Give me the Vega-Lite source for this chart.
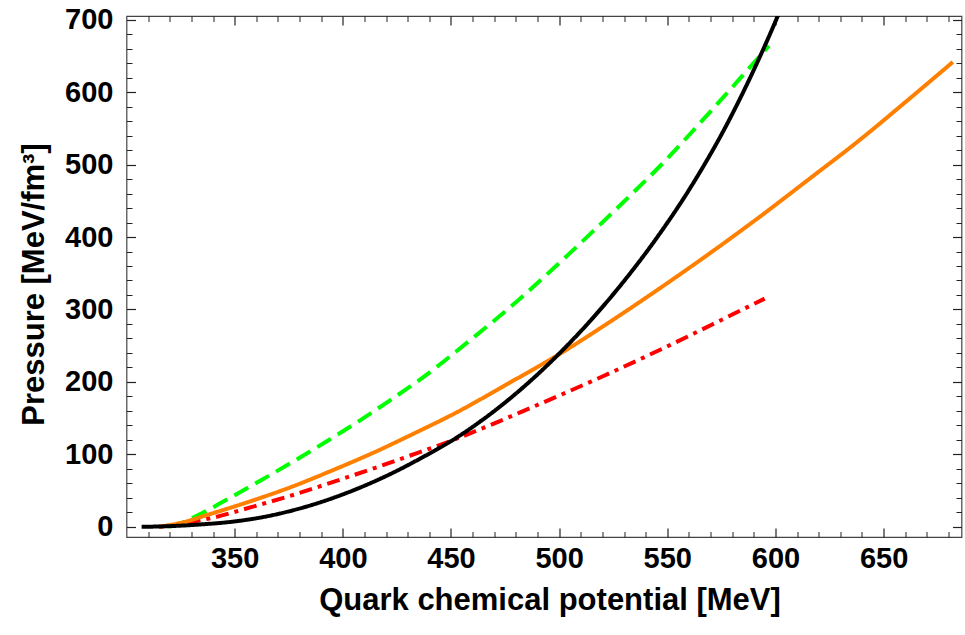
{
  "$schema": "https://vega.github.io/schema/vega-lite/v6.json",
  "width": 835,
  "height": 521,
  "autosize": "none",
  "padding": {"left": 126.5, "top": 16, "right": 3.5, "bottom": 98},
  "background": "white",
  "config": {"view": {"stroke": "#444", "strokeWidth": 1.2}},
  "data": {"values": [
    {"s": "green", "mu": 320, "P": 0}, {"s": "green", "mu": 325, "P": 5}, {"s": "green", "mu": 335, "P": 19}, {"s": "green", "mu": 346, "P": 37}, {"s": "green", "mu": 362, "P": 64}, {"s": "green", "mu": 377, "P": 90}, {"s": "green", "mu": 392, "P": 117}, {"s": "green", "mu": 408, "P": 147}, {"s": "green", "mu": 422, "P": 175}, {"s": "green", "mu": 436, "P": 204}, {"s": "green", "mu": 459, "P": 258}, {"s": "green", "mu": 482, "P": 315}, {"s": "green", "mu": 500, "P": 364}, {"s": "green", "mu": 515, "P": 406}, {"s": "green", "mu": 530, "P": 449}, {"s": "green", "mu": 547, "P": 499}, {"s": "green", "mu": 572, "P": 580}, {"s": "green", "mu": 597, "P": 664},
    {"s": "red", "mu": 315, "P": 0}, {"s": "red", "mu": 325, "P": 4}, {"s": "red", "mu": 339, "P": 12}, {"s": "red", "mu": 358, "P": 27.5}, {"s": "red", "mu": 377, "P": 44}, {"s": "red", "mu": 396, "P": 62.5}, {"s": "red", "mu": 415, "P": 81.5}, {"s": "red", "mu": 434, "P": 101.5}, {"s": "red", "mu": 452, "P": 121}, {"s": "red", "mu": 467, "P": 139}, {"s": "red", "mu": 482, "P": 158}, {"s": "red", "mu": 501, "P": 182.5}, {"s": "red", "mu": 520, "P": 207.5}, {"s": "red", "mu": 540, "P": 235}, {"s": "red", "mu": 559, "P": 262}, {"s": "red", "mu": 577, "P": 288.5}, {"s": "red", "mu": 595, "P": 315},
    {"s": "orange", "mu": 315, "P": 0}, {"s": "orange", "mu": 325, "P": 5.5}, {"s": "orange", "mu": 339, "P": 18}, {"s": "orange", "mu": 358, "P": 36}, {"s": "orange", "mu": 377, "P": 56}, {"s": "orange", "mu": 396, "P": 79}, {"s": "orange", "mu": 415, "P": 103.5}, {"s": "orange", "mu": 433, "P": 129}, {"s": "orange", "mu": 452, "P": 157}, {"s": "orange", "mu": 476, "P": 197}, {"s": "orange", "mu": 501, "P": 240}, {"s": "orange", "mu": 522, "P": 280}, {"s": "orange", "mu": 543, "P": 322}, {"s": "orange", "mu": 568, "P": 374}, {"s": "orange", "mu": 593, "P": 428.5}, {"s": "orange", "mu": 616, "P": 481}, {"s": "orange", "mu": 639, "P": 534}, {"s": "orange", "mu": 660, "P": 586}, {"s": "orange", "mu": 682, "P": 641.5},
    {"s": "black", "mu": 307, "P": 0}, {"s": "black", "mu": 320, "P": 1}, {"s": "black", "mu": 335, "P": 3.5}, {"s": "black", "mu": 350, "P": 7.5}, {"s": "black", "mu": 365, "P": 14.6}, {"s": "black", "mu": 377, "P": 22.9}, {"s": "black", "mu": 390, "P": 34.3}, {"s": "black", "mu": 400, "P": 44.8}, {"s": "black", "mu": 412, "P": 59.3}, {"s": "black", "mu": 423, "P": 74.4}, {"s": "black", "mu": 436, "P": 94.6}, {"s": "black", "mu": 452, "P": 122}, {"s": "black", "mu": 467, "P": 153}, {"s": "black", "mu": 482, "P": 189}, {"s": "black", "mu": 501, "P": 242}, {"s": "black", "mu": 516, "P": 289.7}, {"s": "black", "mu": 531, "P": 343}, {"s": "black", "mu": 545, "P": 398.3}, {"s": "black", "mu": 562, "P": 474.4}, {"s": "black", "mu": 577, "P": 552.4}, {"s": "black", "mu": 591, "P": 637.1}, {"s": "black", "mu": 601, "P": 704.6}, {"s": "black", "mu": 603, "P": 719}
  ]},
  "layer": [
    {
      "mark": {"type": "line", "interpolate": "monotone", "clip": true, "strokeWidth": 4, "strokeCap": "butt"},
      "encoding": {
        "x": {"field": "mu", "type": "quantitative", "scale": {"domain": [300, 686], "nice": false, "zero": false},
          "axis": {"orient": "bottom", "values": [350, 400, 450, 500, 550, 600, 650], "tickSize": -9, "tickColor": "#222", "tickWidth": 1.2, "domain": false, "grid": false,
            "labelFont": "Liberation Sans", "labelFontWeight": "bold", "labelFontSize": 29, "labelColor": "black", "labelPadding": 16, "labelFlush": false, "labelOverlap": false,
            "title": "Quark chemical potential [MeV]", "titleFont": "Liberation Sans", "titleFontWeight": "bold", "titleFontSize": 31, "titleColor": "black", "titleX": 423, "titleY": 72, "titleBaseline": "alphabetic"}},
        "y": {"field": "P", "type": "quantitative", "scale": {"domain": [-14, 705], "nice": false, "zero": false},
          "axis": {"orient": "left", "values": [0, 100, 200, 300, 400, 500, 600, 700], "tickSize": -9, "tickColor": "#222", "tickWidth": 1.2, "domain": false, "grid": false,
            "labelFont": "Liberation Sans", "labelFontWeight": "bold", "labelFontSize": 29, "labelColor": "black", "labelPadding": 22.5, "labelFlush": false, "labelOverlap": false,
            "title": "Pressure [MeV/fm³]", "titleFont": "Liberation Sans", "titleFontWeight": "bold", "titleFontSize": 31, "titleColor": "black", "titleAngle": 270, "titleX": -83, "titleY": 268, "titleBaseline": "alphabetic"}},
        "color": {"field": "s", "type": "nominal", "legend": null, "scale": {"domain": ["green", "red", "orange", "black"], "range": ["#00FF00", "#FF0000", "#FF8000", "#000000"]}},
        "strokeDash": {"field": "s", "type": "nominal", "legend": null, "scale": {"domain": ["green", "red", "orange", "black"], "range": [[16, 8], [13, 6, 4, 6], [1, 0], [1, 0]]}}
      }
    },
    {
      "mark": {"type": "point", "opacity": 0},
      "encoding": {
        "x": {"field": "mu", "type": "quantitative", "axis": {"orient": "bottom", "values": [310, 320, 330, 340, 360, 370, 380, 390, 410, 420, 430, 440, 460, 470, 480, 490, 510, 520, 530, 540, 560, 570, 580, 590, 610, 620, 630, 640, 660, 670, 680], "tickSize": -5.5, "tickColor": "#222", "tickWidth": 1, "domain": false, "grid": false, "labels": false, "title": null}},
        "y": {"field": "P", "type": "quantitative", "axis": {"orient": "left", "values": [20, 40, 60, 80, 120, 140, 160, 180, 220, 240, 260, 280, 320, 340, 360, 380, 420, 440, 460, 480, 520, 540, 560, 580, 620, 640, 660, 680], "tickSize": -5.5, "tickColor": "#222", "tickWidth": 1, "domain": false, "grid": false, "labels": false, "title": null}}
      }
    },
    {
      "mark": {"type": "point", "opacity": 0},
      "encoding": {
        "x": {"field": "mu", "type": "quantitative", "axis": {"orient": "top", "values": [350, 400, 450, 500, 550, 600, 650], "tickSize": -9, "tickColor": "#222", "tickWidth": 1.2, "domain": false, "grid": false, "labels": false, "title": null}},
        "y": {"field": "P", "type": "quantitative", "axis": {"orient": "right", "values": [0, 100, 200, 300, 400, 500, 600, 700], "tickSize": -9, "tickColor": "#222", "tickWidth": 1.2, "domain": false, "grid": false, "labels": false, "title": null}}
      }
    },
    {
      "mark": {"type": "point", "opacity": 0},
      "encoding": {
        "x": {"field": "mu", "type": "quantitative", "axis": {"orient": "top", "values": [310, 320, 330, 340, 360, 370, 380, 390, 410, 420, 430, 440, 460, 470, 480, 490, 510, 520, 530, 540, 560, 570, 580, 590, 610, 620, 630, 640, 660, 670, 680], "tickSize": -5.5, "tickColor": "#222", "tickWidth": 1, "domain": false, "grid": false, "labels": false, "title": null}},
        "y": {"field": "P", "type": "quantitative", "axis": {"orient": "right", "values": [20, 40, 60, 80, 120, 140, 160, 180, 220, 240, 260, 280, 320, 340, 360, 380, 420, 440, 460, 480, 520, 540, 560, 580, 620, 640, 660, 680], "tickSize": -5.5, "tickColor": "#222", "tickWidth": 1, "domain": false, "grid": false, "labels": false, "title": null}}
      }
    }
  ],
  "resolve": {"axis": {"x": "independent", "y": "independent"}}
}
